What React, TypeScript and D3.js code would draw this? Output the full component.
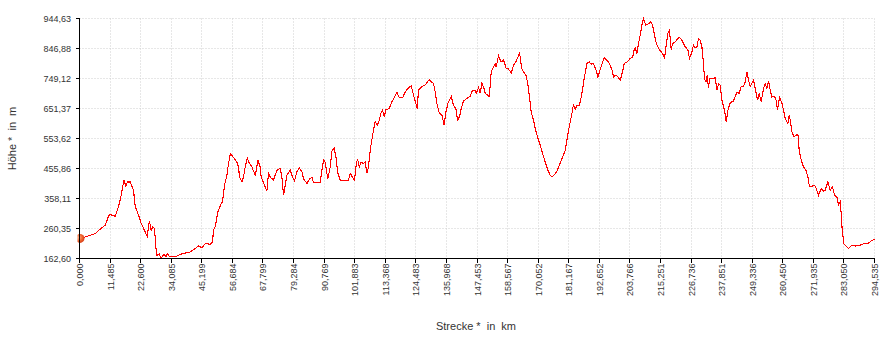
import React from "react";
import * as d3 from "d3";

const distKm: number[] = [
  0, 2.11, 5.82, 8.3, 9.52, 10.74, 11.37, 13.22, 14.45, 15.45, 16.45, 17.19, 17.78, 18.78, 20.01, 20.64, 21.86, 22.86, 24.34, 25.19,
  25.56, 25.93, 26.56, 27.19, 27.79, 28.3, 28.68, 29.53, 30.27, 31.27, 32.01, 32.49, 33.34, 35.46, 37.94, 41.01, 42.87, 44.09, 45.35, 46.57,
  48.42, 49.28, 49.65, 50.28, 51.27, 51.76, 52.5, 52.98, 53.72, 54.61, 55.2, 55.94, 57.05, 58.31, 58.91, 59.28, 60.17, 60.76, 61.39, 62.13,
  62.87, 63.87, 65.09, 65.47, 66.09, 66.95, 67.32, 68.32, 69.43, 70.02, 70.65, 71.87, 73.13, 74.36, 74.99, 75.58, 76.21, 76.84, 78.06, 78.91,
  79.65, 80.54, 81.4, 82.4, 82.99, 84.25, 85.1, 86.1, 86.69, 89.18, 89.8, 90.4, 91.03, 91.66, 92.03, 92.88, 93.51, 94.36, 94.99, 95.73,
  96.58, 99.66, 100.29, 101.14, 101.88, 102.4, 102.99, 103.62, 104.37, 105.22, 105.85, 106.48, 107.07, 107.44, 108.07, 108.92, 109.55, 110.4, 111.03, 111.66,
  112.26, 112.89, 113.52, 114.74, 115.74, 116.7, 117.59, 118.44, 118.81, 119.67, 120.67, 121.67, 122.89, 123.74, 124.63, 125.11, 125.59, 126.85, 128.33, 129.56,
  130.56, 131.15, 131.78, 132.41, 133.27, 134.26, 135.12, 135.75, 136.49, 137.71, 138.56, 139.45, 140.04, 140.78, 141.41, 142.27, 143.53, 144.75, 145.6, 146.6,
  146.97, 147.83, 148.45, 149.08, 149.68, 150.31, 151.79, 152.16, 152.53, 153.38, 154.01, 154.38, 155.23, 156.23, 157.09, 158.09, 158.94, 159.94, 160.79, 161.68,
  162.42, 163.02, 163.39, 163.76, 164.5, 165.39, 165.98, 166.61, 167.35, 168.2, 168.83, 169.68, 170.68, 171.54, 172.54, 173.54, 174.39, 175.02, 175.98, 176.87,
  177.83, 179.94, 181.17, 182.43, 183.02, 183.65, 184.28, 185.24, 186.13, 186.98, 187.98, 188.84, 189.47, 190.43, 191.43, 192.06, 192.91, 194.39, 195.39, 196.36,
  197.25, 197.84, 198.47, 199.32, 200.32, 201.32, 201.8, 202.8, 204.02, 205.02, 205.24, 205.87, 206.5, 207.1, 207.73, 208.36, 208.95, 209.84, 210.81, 211.7,
  212.29, 212.92, 213.55, 214.51, 215.51, 216.36, 216.73, 217.36, 217.99, 218.47, 218.96, 219.22, 219.7, 220.7, 221.7, 222.29, 223.18, 224.4, 225.4, 226.0,
  226.88, 227.48, 228.11, 228.74, 229.33, 229.96, 230.59, 231.18, 231.55, 232.07, 232.55, 233.04, 233.41, 234.89, 235.52, 236.15, 236.74, 237.37, 238.0, 238.96,
  239.59, 240.22, 241.07, 242.3, 243.56, 244.41, 245.15, 246.0, 246.63, 247.26, 247.86, 248.49, 249.12, 249.71, 250.34, 251.19, 251.82, 252.56, 253.42, 254.05,
  254.68, 255.27, 255.9, 256.53, 257.49, 258.12, 258.6, 259.34, 260.23, 260.82, 261.45, 262.45, 262.94, 263.42, 263.94, 264.68, 265.42, 266.16, 266.64, 267.38,
  268.23, 269.12, 269.86, 270.45, 271.34, 272.3, 272.94, 273.79, 274.79, 275.64, 276.27, 277.27, 278.12, 278.98, 279.72, 280.61, 281.2, 281.83, 282.2, 282.57,
  283.2, 283.94, 284.91, 286.16, 287.39, 289.24, 290.46, 292.31, 293.31, 294.535,
];

const elevM: number[] = [
  228, 233, 244, 263, 271, 300, 306, 300, 331, 369, 418, 398, 412, 412, 385, 333, 304, 277, 249, 233,
  271, 285, 255, 266, 260, 200, 173, 177, 163, 176, 168, 179, 168, 168, 178, 184, 195, 204, 198, 211,
  209, 217, 255, 266, 315, 326, 342, 347, 401, 434, 472, 505, 492, 477, 461, 428, 412, 428, 461, 490,
  474, 461, 434, 450, 483, 461, 428, 407, 382, 440, 428, 418, 450, 456, 428, 369, 401, 434, 450, 428,
  415, 445, 459, 445, 423, 407, 420, 428, 409, 409, 450, 483, 477, 440, 423, 461, 513, 521, 494, 440,
  418, 418, 440, 428, 418, 461, 488, 461, 477, 472, 477, 441, 461, 494, 537, 580, 608, 597, 613, 635,
  646, 624, 648, 651, 673, 689, 704, 687, 686, 686, 705, 717, 725, 695, 668, 651, 711, 722, 730, 746,
  737, 733, 705, 668, 637, 630, 597, 640, 668, 691, 662, 651, 613, 624, 651, 676, 684, 691, 711, 711,
  700, 720, 702, 733, 722, 700, 691, 727, 771, 787, 798, 787, 823, 803, 809, 782, 780, 767, 792, 803,
  819, 830, 814, 782, 771, 760, 738, 695, 640, 613, 586, 559, 532, 505, 477, 450, 434, 428, 436, 447,
  467, 515, 580, 635, 665, 648, 662, 662, 700, 749, 798, 803, 796, 798, 776, 754, 778, 817, 809, 798,
  778, 754, 760, 756, 743, 776, 798, 803, 814, 819, 836, 850, 831, 863, 890, 923, 944, 923, 928, 934,
  923, 896, 868, 847, 836, 825, 814, 858, 896, 904, 874, 841, 863, 868, 879, 883, 874, 852, 843, 814,
  836, 858, 850, 852, 879, 874, 852, 798, 749, 738, 760, 717, 749, 749, 752, 711, 731, 727, 678, 646,
  608, 646, 670, 676, 705, 700, 724, 724, 738, 771, 744, 722, 733, 744, 717, 678, 700, 673, 717, 731,
  717, 741, 711, 689, 691, 678, 646, 687, 670, 646, 619, 602, 630, 608, 575, 559, 564, 568, 515, 483,
  461, 450, 428, 396, 398, 401, 391, 369, 391, 382, 385, 412, 385, 396, 369, 363, 336, 347, 309, 255,
  211, 203, 195, 206, 203, 206, 211, 213, 220, 225,
];

const xTicks: number[] = [
  0, 11.485, 22.6, 34.085, 45.199, 56.684, 67.799, 79.284, 90.769, 101.883, 113.368, 124.483, 135.968, 147.453,
  158.567, 170.052, 181.167, 192.652, 203.766, 215.251, 226.736, 237.851, 249.336, 260.45, 271.935, 283.05, 294.535,
];
const yTicks: number[] = [162.6, 260.35, 358.11, 455.86, 553.62, 651.37, 749.12, 846.88, 944.63];

const xTitle = "Strecke *  in  km";
const yTitle = "Höhe *  in  m";

const W = 892;
const H = 339;
const L = 79.5;
const R = 874.5;
const T = 18.5;
const B = 258.5;
const FONT = "'Liberation Sans', Arial, sans-serif";

export default function App() {
  const x = d3.scaleLinear().domain([0, 294.535]).range([L, R]);
  const y = d3.scaleLinear().domain([162.6, 944.63]).range([B, T]);
  const pts: [number, number][] = distKm.map((d, i) => [d, elevM[i]]);
  const line = d3
    .line<[number, number]>()
    .x((d) => x(d[0]))
    .y((d) => y(d[1]));
  const fx = (v: number) => d3.format(".3f")(v).replace(".", ",");
  const fy = (v: number) => d3.format(".2f")(v).replace(".", ",");
  const px = (v: number) => Math.round(x(v) - 0.5) + 0.5;
  const py = (v: number) => Math.round(y(v) - 0.5) + 0.5;

  return (
    <svg
      width={W}
      height={H}
      style={{ position: "absolute", left: 0, top: 0, background: "#fff" }}
      fontFamily={FONT}
    >
      <defs>
        <radialGradient id="dotG" cx="40%" cy="40%" r="60%">
          <stop offset="0%" stopColor="#ffb08a" />
          <stop offset="60%" stopColor="#f0642c" />
          <stop offset="100%" stopColor="#d8401a" />
        </radialGradient>
        <clipPath id="dotClip">
          <rect x={L - 2} y={0} width={20} height={H} />
        </clipPath>
      </defs>
      <rect x={0} y={0} width={W} height={H} fill="#fff" />
      {/* grid */}
      <g stroke="#cfcfcf" strokeWidth={1} strokeDasharray="1 2">
        {yTicks.map((t, i) => (
          <line key={"gy" + i} x1={L} x2={R} y1={py(t)} y2={py(t)} />
        ))}
        {xTicks.map((t, i) => (
          <line key={"gx" + i} x1={px(t)} x2={px(t)} y1={T} y2={B} />
        ))}
      </g>
      {/* profile line */}
      <path
        d={line(pts) || ""}
        fill="none"
        stroke="#ff0000"
        strokeWidth={1.1}
        strokeLinejoin="miter"
        shapeRendering="crispEdges"
      />
      {/* start marker */}
      <circle cx={x(distKm[0]) + 0.5} cy={y(elevM[0])} r={4.5} fill="url(#dotG)" clipPath="url(#dotClip)" />
      {/* axes */}
      <g stroke="#000" strokeWidth={1} shapeRendering="crispEdges">
        <line x1={L} x2={L} y1={T - 0.5} y2={B + 0.5} />
        <line x1={L - 0.5} x2={R + 0.5} y1={B} y2={B} />
        {yTicks.map((t, i) => (
          <line key={"ty" + i} x1={L - 4} x2={L} y1={py(t)} y2={py(t)} />
        ))}
        {xTicks.map((t, i) => (
          <line key={"tx" + i} x1={px(t)} x2={px(t)} y1={B} y2={B + 4} />
        ))}
      </g>
      {/* y tick labels */}
      <g fontSize={9} fill="#333" textAnchor="end">
        {yTicks.map((t, i) => (
          <text key={"ly" + i} x={L - 8.5} y={py(t)} dy="0.35em">
            {fy(t)}
          </text>
        ))}
      </g>
      {/* x tick labels */}
      <g fontSize={9} fill="#333" textAnchor="end">
        {xTicks.map((t, i) => (
          <text key={"lx" + i} transform={`translate(${px(t)},${B + 5}) rotate(-90)`} dy="0.35em">
            {fx(t)}
          </text>
        ))}
      </g>
      {/* titles */}
      <text
        x={476}
        y={330}
        fontSize={11}
        fill="#333"
        textAnchor="middle"
        style={{ whiteSpace: "pre" }}
      >
        {xTitle}
      </text>
      <text
        transform={`translate(16,${(T + B) / 2}) rotate(-90)`}
        fontSize={11}
        fill="#333"
        textAnchor="middle"
        style={{ whiteSpace: "pre" }}
      >
        {yTitle}
      </text>
    </svg>
  );
}
